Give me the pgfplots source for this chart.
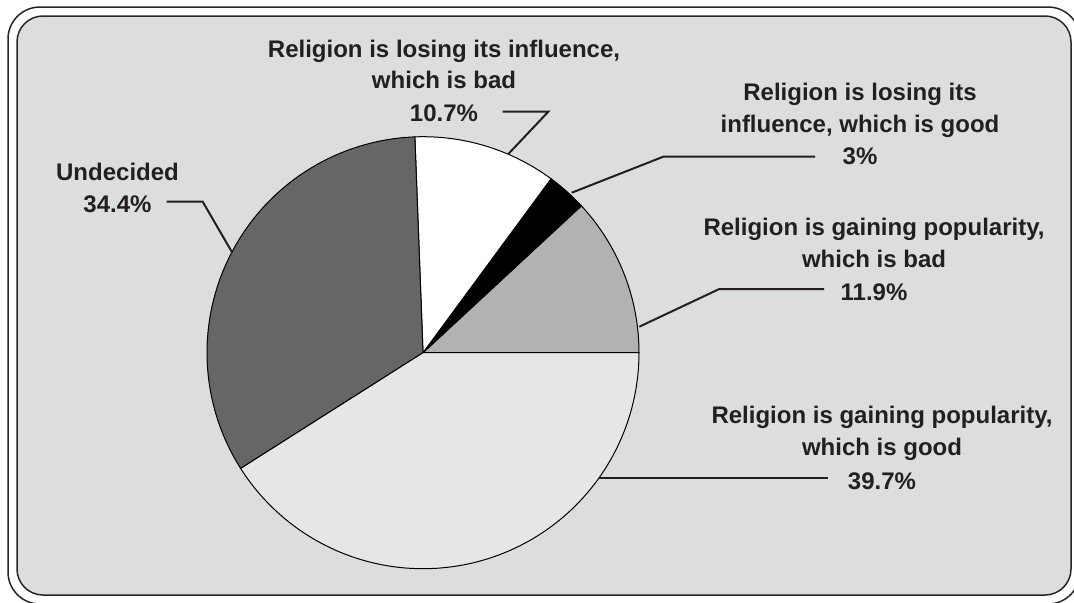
\documentclass[border=0pt]{standalone}
\usepackage{fontspec}
\setmainfont{Liberation Sans}
\usepackage{pgfplots}
\pgfplotsset{compat=1.18}
\definecolor{panel}{RGB}{220,221,223}
\definecolor{txt}{RGB}{35,31,32}
\definecolor{sGB}{RGB}{178,178,178}
\definecolor{sLG}{RGB}{0,0,0}
\definecolor{sLB}{RGB}{255,255,255}
\definecolor{sUD}{RGB}{102,102,102}
\definecolor{sGG}{RGB}{230,230,230}
% drawn shares (percent), counter-clockwise from 3 o'clock
\def\vGB{11.9}\def\vLG{3.0}\def\vLB{10.7}\def\vUD{33.4}\def\vGG{41.0}
\pgfmathsetmacro\aA{0}
\pgfmathsetmacro\aB{3.6*\vGB}
\pgfmathsetmacro\aC{\aB+3.6*\vLG}
\pgfmathsetmacro\aD{\aC+3.6*\vLB}
\pgfmathsetmacro\aE{\aD+3.6*\vUD}
\pgfmathsetmacro\aF{\aE+3.6*\vGG}
\def\cx{423}\def\cy{249.3}\def\rr{216}
\begin{document}
\begin{tikzpicture}
\begin{axis}[name=ax, at={(0,0)}, anchor=south west,
  scale only axis, width=537pt, height=301pt,
  xmin=0, xmax=1074, ymin=0, ymax=602, hide axis, clip=false]
% frames
\draw[line width=0.75pt, black!85, rounded corners=16pt, fill=white] (axis cs:8,595) rectangle (axis cs:1080,-2);
\draw[line width=0.75pt, black!85, rounded corners=13pt, fill=panel] (axis cs:17,586) rectangle (axis cs:1071,7);
% slices
\addplot[fill=sGB, draw=black, line width=0.5pt, domain=\aA:\aB, samples=40, variable=\t]
  ({\cx+\rr*cos(\t)},{\cy+\rr*sin(\t)}) -- (axis cs:\cx,\cy) -- cycle;
\addplot[fill=sLG, draw=black, line width=0.5pt, domain=\aB:\aC, samples=15, variable=\t]
  ({\cx+\rr*cos(\t)},{\cy+\rr*sin(\t)}) -- (axis cs:\cx,\cy) -- cycle;
\addplot[fill=sLB, draw=black, line width=0.5pt, domain=\aC:\aD, samples=40, variable=\t]
  ({\cx+\rr*cos(\t)},{\cy+\rr*sin(\t)}) -- (axis cs:\cx,\cy) -- cycle;
\addplot[fill=sUD, draw=black, line width=0.5pt, domain=\aD:\aE, samples=100, variable=\t]
  ({\cx+\rr*cos(\t)},{\cy+\rr*sin(\t)}) -- (axis cs:\cx,\cy) -- cycle;
\addplot[fill=sGG, draw=black, line width=0.5pt, domain=\aE:\aF, samples=120, variable=\t]
  ({\cx+\rr*cos(\t)},{\cy+\rr*sin(\t)}) -- (axis cs:\cx,\cy) -- cycle;
% leaders
\addplot[txt, line width=1pt, mark=none] coordinates {(502.7,490.3) (548.3,490.3) (508.3,448)};
\addplot[txt, line width=1pt, mark=none] coordinates {(815,445.3) (663.3,445.3) (571.7,409.3)};
\addplot[txt, line width=1pt, mark=none] coordinates {(824,313) (719.3,313) (639.3,275.3)};
\addplot[txt, line width=1pt, mark=none] coordinates {(827.7,124.3) (599.3,124.3)};
\addplot[txt, line width=1pt, mark=none] coordinates {(166.7,400.3) (202.7,400.3) (232.3,349.3)};
% labels
\tikzset{lab/.style={anchor=base, inner sep=0pt, text=txt, font=\fontsize{12}{14}\selectfont\bfseries}}
\node[lab] at (axis cs:444,545) {Religion is losing its influence,};
\node[lab] at (axis cs:444,514) {which is bad};
\node[lab] at (axis cs:444,481) {10.7\%};
\node[lab] at (axis cs:860,502) {Religion is losing its};
\node[lab] at (axis cs:860,470) {influence, which is good};
\node[lab] at (axis cs:860,438) {3\%};
\node[lab] at (axis cs:874,367) {Religion is gaining popularity,};
\node[lab] at (axis cs:874,335) {which is bad};
\node[lab] at (axis cs:874,302) {11.9\%};
\node[lab] at (axis cs:882,179) {Religion is gaining popularity,};
\node[lab] at (axis cs:882,147) {which is good};
\node[lab] at (axis cs:882,113) {39.7\%};
\node[lab] at (axis cs:117.5,422) {Undecided};
\node[lab] at (axis cs:117.5,390) {34.4\%};
\end{axis}
\pgfresetboundingbox
\path[use as bounding box] (0,0) rectangle (537pt,301pt);
\end{tikzpicture}
\end{document}
